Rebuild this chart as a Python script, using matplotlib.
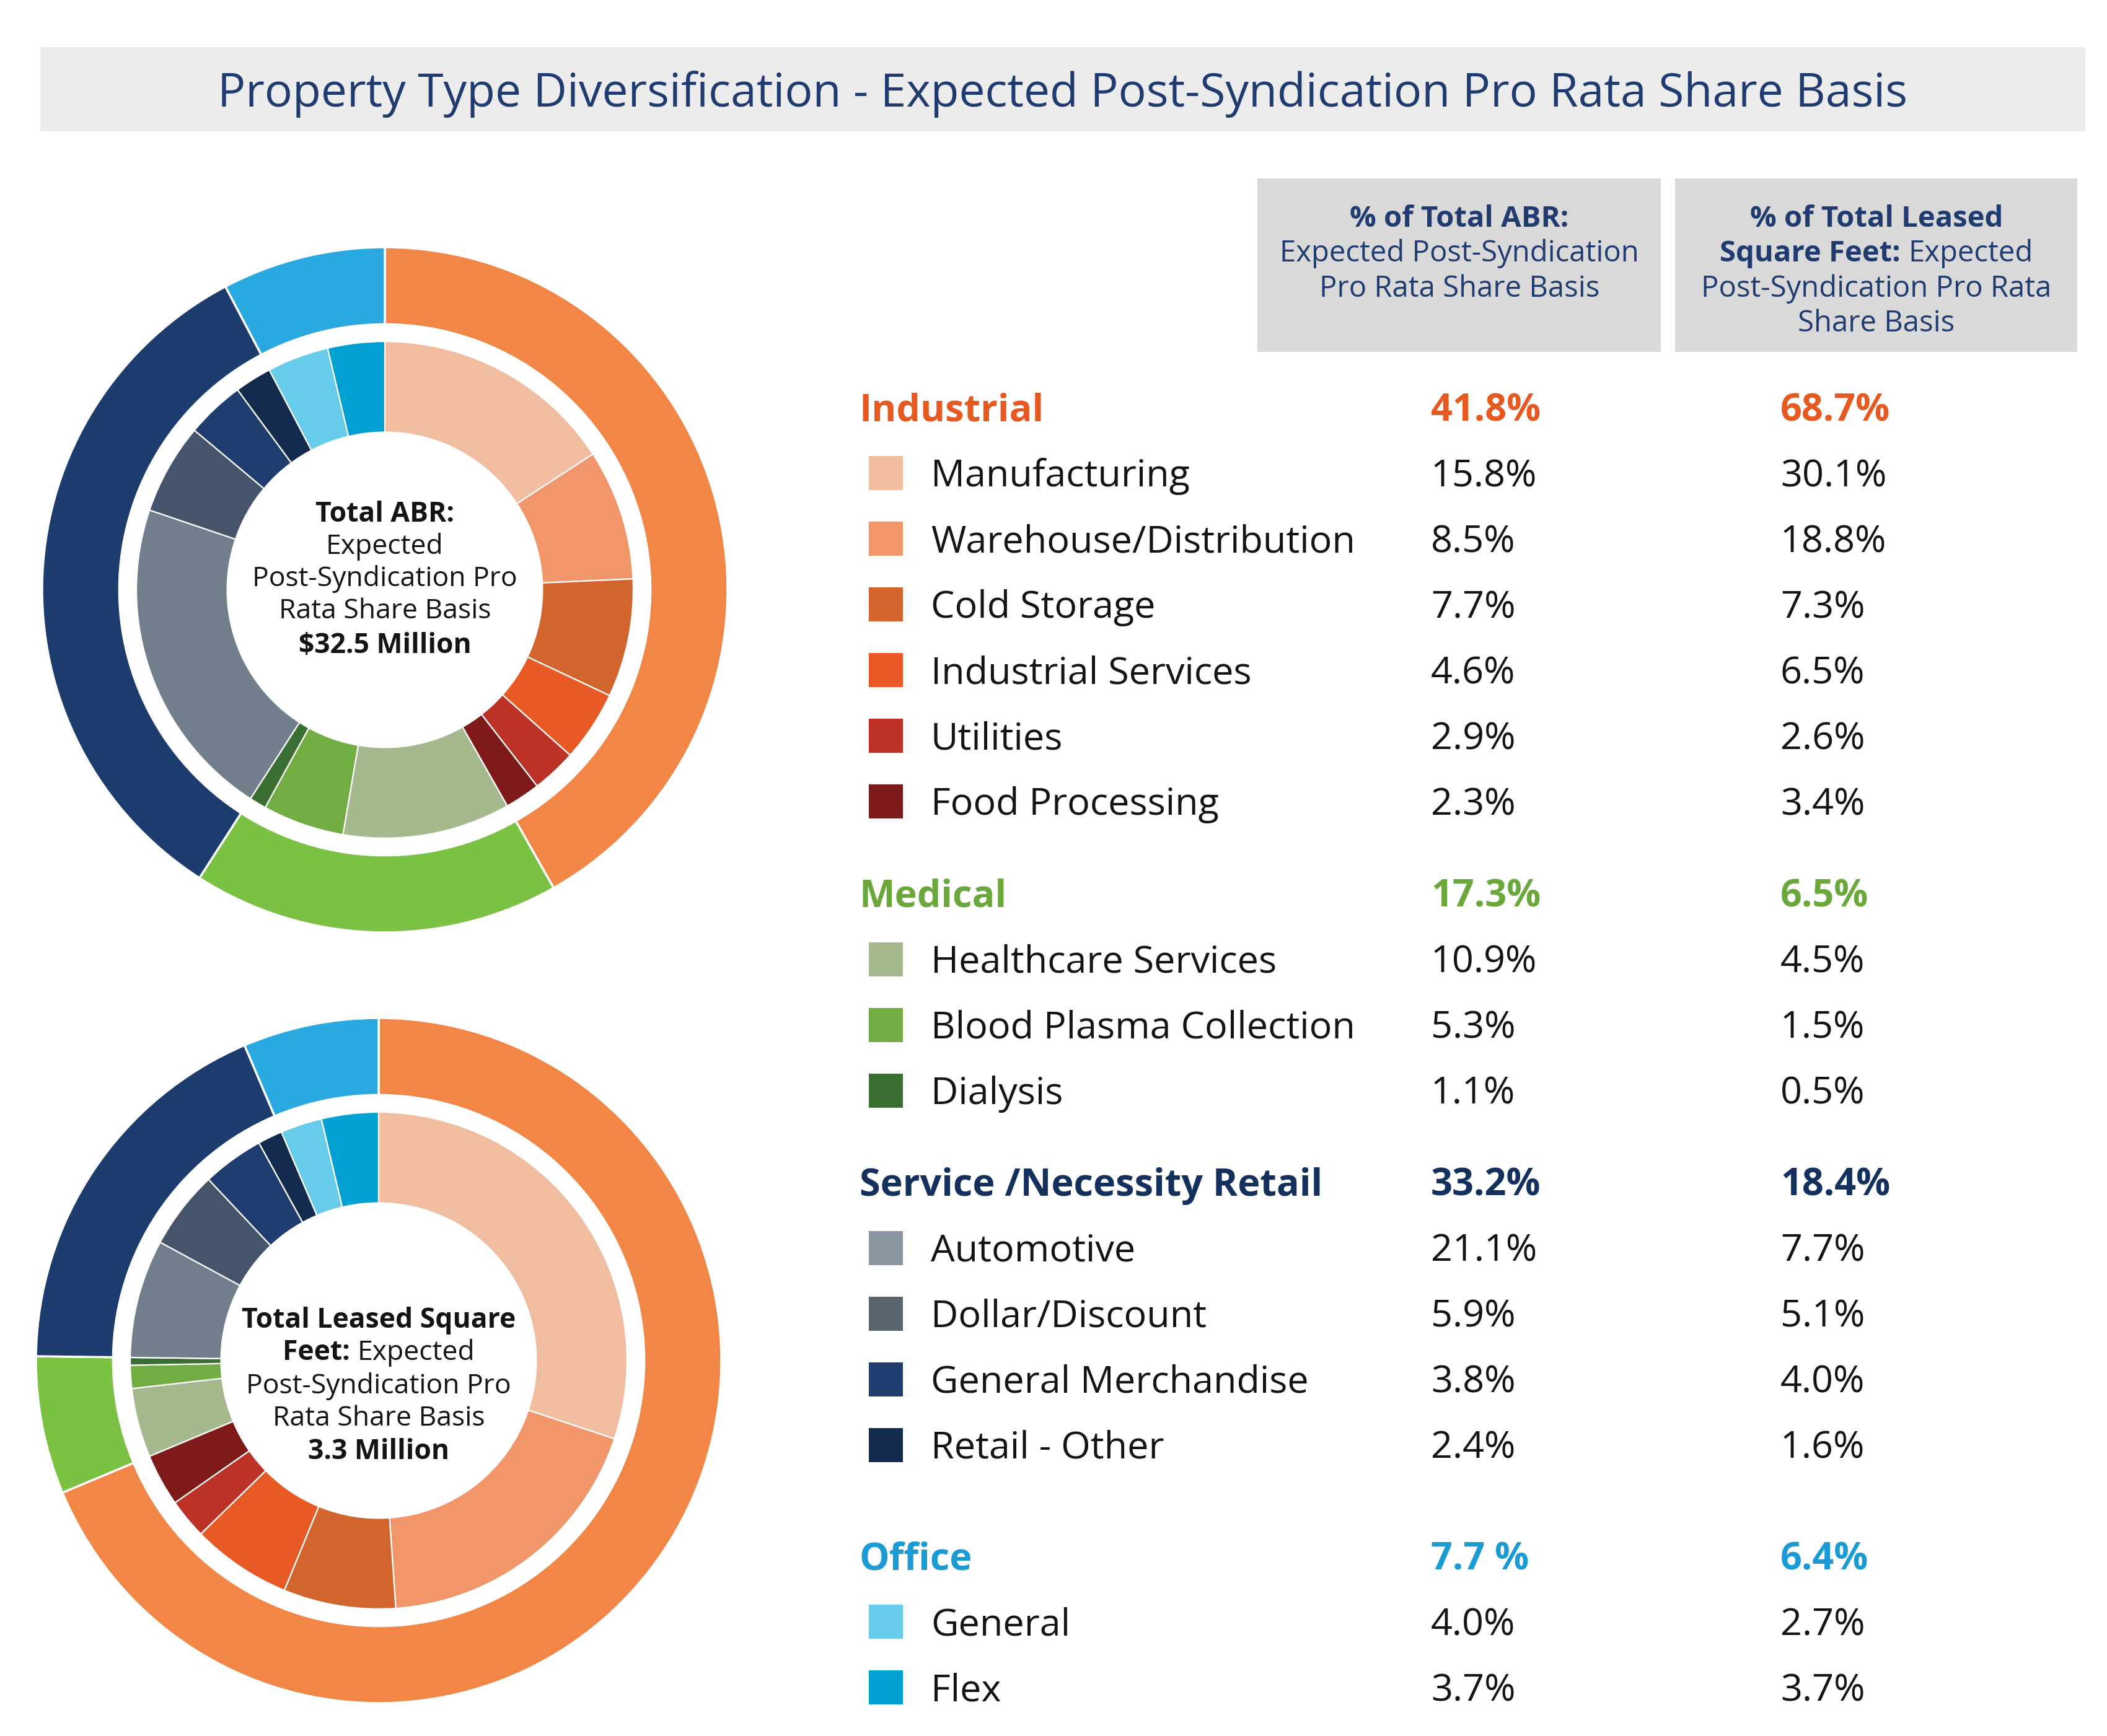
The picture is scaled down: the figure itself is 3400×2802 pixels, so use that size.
import matplotlib
matplotlib.use("Agg")
import matplotlib.pyplot as plt
from matplotlib.patches import Rectangle

# ---------------- data ----------------
groups = ["Industrial", "Medical", "Service /Necessity Retail", "Office"]
group_abr = [41.8, 17.3, 33.2, 7.7]
group_sf = [68.7, 6.5, 18.4, 6.4]
group_abr_text = ["41.8%", "17.3%", "33.2%", "7.7 %"]
group_sf_text = ["68.7%", "6.5%", "18.4%", "6.4%"]

industrial_subs = ["Manufacturing", "Warehouse/Distribution", "Cold Storage",
                   "Industrial Services", "Utilities", "Food Processing"]
industrial_abr = [15.8, 8.5, 7.7, 4.6, 2.9, 2.3]
industrial_sf = [30.1, 18.8, 7.3, 6.5, 2.6, 3.4]

medical_subs = ["Healthcare Services", "Blood Plasma Collection", "Dialysis"]
medical_abr = [10.9, 5.3, 1.1]
medical_sf = [4.5, 1.5, 0.5]

retail_subs = ["Automotive", "Dollar/Discount", "General Merchandise", "Retail - Other"]
retail_abr = [21.1, 5.9, 3.8, 2.4]
retail_sf = [7.7, 5.1, 4.0, 1.6]

office_subs = ["General", "Flex"]
office_abr = [4.0, 3.7]
office_sf = [2.7, 3.7]

# ---------------- styles ----------------
group_ring_colors = ["#f28646", "#7bc143", "#1d3c6e", "#29a9e0"]
group_text_colors = ["#e65a22", "#6aa83c", "#14305c", "#1a9bd3"]
sub_colors = [
    ["#f0bda0", "#f0966a", "#d2642d", "#e85a25", "#bc3226", "#7f1a1a"],
    ["#a6b98e", "#72ad44", "#3a6e32"],
    ["#717f8d", "#45546a", "#1f3d6f", "#132b4e"],
    ["#67cbea", "#00a0d2"],
]
legend_colors = [
    ["#f0bda0", "#f0966a", "#d2642d", "#e85a25", "#bc3226", "#7f1a1a"],
    ["#a6b98e", "#72ad44", "#3a6e32"],
    ["#8a96a2", "#5a646e", "#1f3d6f", "#132b4e"],
    ["#67cbea", "#00a0d2"],
]

W, H = 3400, 2802
DPI = 100
FONT = "Open Sans"
NAVY = "#1f3b6f"
TXT = "#141414"

fig = plt.figure(figsize=(W / DPI, H / DPI), dpi=DPI)
ax = fig.add_axes([0, 0, 1, 1])


def Y(y):
    return H - y


renderer = fig.canvas.get_renderer()


def text_width(s, size, weight):
    t = ax.text(0, 0, s, fontsize=size, fontweight=weight, family=FONT)
    w = t.get_window_extent(renderer).width
    t.remove()
    return w


def mixed_line(xc, yb, parts, size, color):
    """parts: list of (text, weight); centered at xc, baseline at yb (pixel coords)."""
    widths = [text_width(p, size, wt) for p, wt in parts]
    sp = text_width("a a", size, "normal") - text_width("aa", size, "normal")
    total = sum(widths) + sp * (len(parts) - 1)
    x = xc - total / 2
    for (p, wt), w in zip(parts, widths):
        ax.text(x, Y(yb), p, fontsize=size, fontweight=wt, family=FONT,
                color=color, ha="left", va="baseline")
        x += w + sp


# ---------------- title bar ----------------
ax.add_patch(Rectangle((65, Y(212)), 3300, 136, facecolor="#ececec", edgecolor="none"))
ax.text(1715, Y(172), "Property Type Diversification - Expected Post-Syndication Pro Rata Share Basis",
        fontsize=54, family=FONT, color=NAVY, ha="center", va="baseline")

# ---------------- header boxes ----------------
ax.add_patch(Rectangle((2029, Y(568)), 651, 280, facecolor="#d9d9d9", edgecolor="none"))
ax.add_patch(Rectangle((2703, Y(568)), 649, 280, facecolor="#d9d9d9", edgecolor="none"))
HS = 34
hb = 17
mixed_line(2355, 349 + hb, [("% of Total ABR:", "bold")], HS, NAVY)
mixed_line(2355, 405 + hb, [("Expected Post-Syndication", "normal")], HS, NAVY)
mixed_line(2355, 462 + hb, [("Pro Rata Share Basis", "normal")], HS, NAVY)
mixed_line(3028, 349 + hb, [("% of Total Leased", "bold")], HS, NAVY)
mixed_line(3028, 405 + hb, [("Square Feet:", "bold"), ("Expected", "normal")], HS, NAVY)
mixed_line(3028, 462 + hb, [("Post-Syndication Pro Rata", "normal")], HS, NAVY)
mixed_line(3028, 518 + hb, [("Share Basis", "normal")], HS, NAVY)

# ---------------- donuts ----------------
sub_abr = [industrial_abr, medical_abr, retail_abr, office_abr]
sub_sf = [industrial_sf, medical_sf, retail_sf, office_sf]
flat_colors = [c for cs in sub_colors for c in cs]


def donut(cx, cy, R, outer_vals, inner_vals):
    ax.pie(outer_vals, radius=R, center=(cx, Y(cy)), startangle=90, counterclock=False,
           colors=group_ring_colors,
           wedgeprops=dict(width=0.225 * R, edgecolor="white", linewidth=2.5))
    ax.pie([v for vs in inner_vals for v in vs], radius=0.725 * R, center=(cx, Y(cy)),
           startangle=90, counterclock=False, colors=flat_colors,
           wedgeprops=dict(width=0.265 * R, edgecolor="white", linewidth=1.6))


donut(621, 952, 553, group_abr, sub_abr)
donut(611, 2196, 553, group_sf, sub_sf)

CS = 32
cb = 16
mixed_line(621, 826 + cb, [("Total ABR:", "bold")], CS, TXT)
mixed_line(621, 878 + cb, [("Expected", "normal")], CS, TXT)
mixed_line(621, 930 + cb, [("Post-Syndication Pro", "normal")], CS, TXT)
mixed_line(621, 982 + cb, [("Rata Share Basis", "normal")], CS, TXT)
mixed_line(621, 1038 + cb, [("\\$32.5 Million", "bold")], CS, TXT)

mixed_line(611, 2127 + cb, [("Total Leased Square", "bold")], CS, TXT)
mixed_line(611, 2179 + cb, [("Feet:", "bold"), ("Expected", "normal")], CS, TXT)
mixed_line(611, 2233 + cb, [("Post-Syndication Pro", "normal")], CS, TXT)
mixed_line(611, 2285 + cb, [("Rata Share Basis", "normal")], CS, TXT)
mixed_line(611, 2339 + cb, [("3.3 Million", "bold")], CS, TXT)

# ---------------- legend table ----------------
LS = 44
lb = 22
group_y = [657, 1442, 1908, 2511]
step = 106
all_subs = [industrial_subs, medical_subs, retail_subs, office_subs]
for gi, g in enumerate(groups):
    gy = group_y[gi]
    col = group_text_colors[gi]
    ax.text(1387, Y(gy + lb), g, fontsize=LS, fontweight="bold", family=FONT, color=col,
            ha="left", va="baseline")
    ax.text(2309, Y(gy + lb), group_abr_text[gi], fontsize=LS, fontweight="bold", family=FONT,
            color=col, ha="left", va="baseline")
    ax.text(2873, Y(gy + lb), group_sf_text[gi], fontsize=LS, fontweight="bold", family=FONT,
            color=col, ha="left", va="baseline")
    for si, s in enumerate(all_subs[gi]):
        yc = gy + step * (si + 1)
        ax.add_patch(Rectangle((1402, Y(yc) - 27.5), 55, 55, facecolor=legend_colors[gi][si],
                               edgecolor="none"))
        ax.text(1502, Y(yc + lb), s, fontsize=LS, family=FONT, color=TXT, ha="left", va="baseline")
        ax.text(2309, Y(yc + lb), f"{sub_abr[gi][si]:.1f}%", fontsize=LS, family=FONT, color=TXT,
                ha="left", va="baseline")
        ax.text(2873, Y(yc + lb), f"{sub_sf[gi][si]:.1f}%", fontsize=LS, family=FONT, color=TXT,
                ha="left", va="baseline")

ax.set_xlim(0, W)
ax.set_ylim(0, H)
ax.set_aspect("equal", adjustable="box")
ax.axis("off")
fig.savefig("out.png", dpi=DPI, facecolor="white")
